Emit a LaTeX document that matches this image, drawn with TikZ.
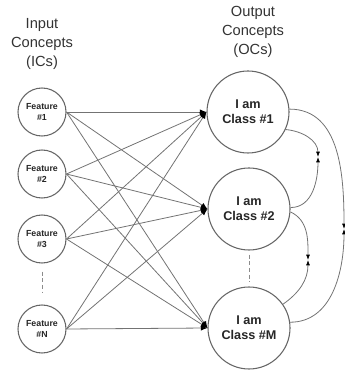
\documentclass[tikz,border=0pt]{standalone}
\usepackage{fontspec}
\setmainfont{Liberation Sans}
\usepackage{tikz}
\usetikzlibrary{arrows.meta, positioning}

\begin{document}
\begin{tikzpicture}[
    x=0.75pt, y=0.75pt,
    feat/.style={circle, draw=black!60, line width=0.8pt,
                 minimum size=36pt, inner sep=0pt, align=center,
                 font=\bfseries\fontsize{6.6}{8.5}\selectfont, text=black!85},
    cls/.style={circle, draw=black!60, line width=0.8pt,
                minimum size=61.5pt, inner sep=0pt, align=center,
                font=\bfseries\fontsize{9.5}{11}\selectfont, text=black!85},
    head/.style={align=center, font=\fontsize{11}{14}\selectfont, text=black!80},
    arrow/.style={-{Latex[length=5pt, width=4pt, color=black]}, line width=0.6pt, black!55},
    link/.style={-{Latex[length=4pt, width=3pt, color=black]}, line width=0.6pt, black!55},
    gap/.style={dash pattern=on 3pt off 2pt, line width=0.6pt, black!45}
]
\useasboundingbox (0,0) rectangle (345,374);

% input concepts
\node[head] (inlbl) at (42,330) {Input\\Concepts\\(ICs)};
\node[feat] (f1) at (42,262) {Feature\\\#1};
\node[feat] (f2) at (42,200) {Feature\\\#2};
\node[feat] (f3) at (42,135) {Feature\\\#3};
\node[feat] (fN) at (42,45)  {Feature\\\#N};

% output concepts
\node[head] (outlbl) at (253,342) {Output\\Concepts\\(OCs)};
\node[cls] (c1) at (248,262) {I am\\Class \#1};
\node[cls] (c2) at (249,165) {I am\\Class \#2};
\node[cls] (cM) at (249,46)  {I am\\Class \#M};

\draw[gap, shorten <=6pt, shorten >=9pt] (f3.south) -- (fN.north);
\draw[gap, shorten <=3pt, shorten >=3pt] (c2.south) -- (cM.north);

\foreach \a in {f1, f2, f3, fN}
    \foreach \b in {c1, c2, cM}
        \draw[arrow] (\a.east) -- (\b.west);

% links between output concepts
\coordinate (m12) at (318,217);
\coordinate (m2M) at (308,114);
\coordinate (m1M) at (344,145);
\draw[link] (c1.-25) to[out=-5, in=90] (m12);
\draw[link] (c2.2) to[out=0, in=-90] (m12);
\draw[link] (c2.-4) to[out=-25, in=90] (m2M);
\draw[link] (cM.35) to[out=35, in=-90] (m2M);
\draw[link] (c1.4) to[out=0, in=90] (m1M);
\draw[link] (cM.8) to[out=0, in=-90] (m1M);
\end{tikzpicture}
\end{document}
